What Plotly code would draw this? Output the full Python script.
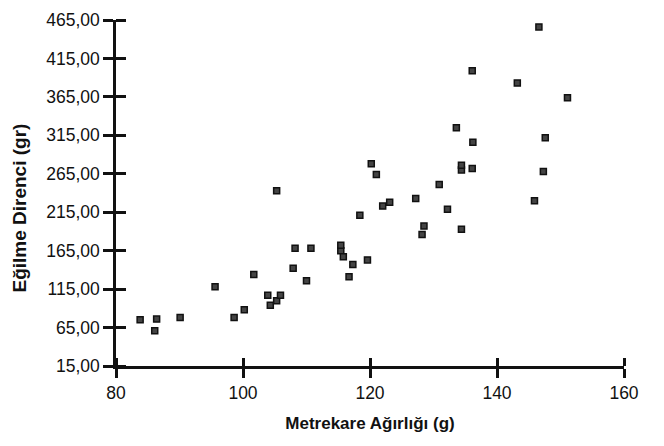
import plotly.graph_objects as go

# Data
metrekare_agirligi = [83.8, 86.4, 86.1, 90.1, 95.6, 98.6, 100.2, 101.7, 103.9, 104.3,
                      105.3, 105.9, 105.3, 107.9, 108.2, 110.0, 110.7, 115.4, 115.4, 115.8,
                      116.7, 117.3, 118.4, 119.6, 120.2, 121.0, 122.0, 123.1, 127.2, 128.2,
                      128.5, 130.9, 132.2, 133.6, 134.4, 134.4, 134.4, 136.1, 136.2, 136.1,
                      143.2, 145.9, 146.6, 147.3, 147.6, 151.1]
egilme_direnci = [75, 76, 61, 78, 118, 78, 88, 134, 107, 94,
                  100, 107, 243, 142, 168, 126, 168, 165, 172, 157,
                  131, 147, 211, 153, 278, 264, 223, 228, 233, 186,
                  197, 251, 219, 325, 270, 276, 193, 272, 306, 399,
                  383, 230, 456, 268, 312, 364]

x_ticks = [80, 100, 120, 140, 160]
y_ticks = [15, 65, 115, 165, 215, 265, 315, 365, 415, 465]
y_tick_labels = ["15,00", "65,00", "115,00", "165,00", "215,00", "265,00",
                 "315,00", "365,00", "415,00", "465,00"]
x_title = "Metrekare Ağırlığı (g)"
y_title = "Eğilme Direnci (gr)"

font_family = "Liberation Sans, Arial, sans-serif"

fig = go.Figure()
fig.add_trace(go.Scatter(
    x=metrekare_agirligi, y=egilme_direnci, mode="markers",
    marker=dict(symbol="square", size=6, color="#444",
                line=dict(width=1.5, color="#111")),
    showlegend=False,
))

common_axis = dict(showgrid=False, zeroline=False, showline=True, linecolor="#111",
                   linewidth=2.5, tickcolor="#111", tickwidth=2.5)

fig.update_layout(
    width=664, height=446,
    margin=dict(l=116, r=40, t=10, b=80),
    paper_bgcolor="white", plot_bgcolor="rgba(0,0,0,0)",
    font=dict(family=font_family, color="#111"),
    xaxis=dict(range=[80, 160], tickvals=x_ticks, ticktext=[str(v) for v in x_ticks],
               ticks="outside", ticklen=9, tickfont=dict(size=17.5),
               minor=dict(tickvals=x_ticks, ticks="inside", ticklen=8,
                          tickwidth=2.5, tickcolor="#111", showgrid=False),
               title=dict(text="<b>" + x_title + "</b>", font=dict(size=17), standoff=16),
               **common_axis),
    yaxis=dict(range=[15, 465], tickvals=y_ticks, ticktext=y_tick_labels,
               ticks="outside", ticklen=10, tickfont=dict(size=17.5),
               minor=dict(tickvals=y_ticks, ticks="inside", ticklen=10,
                          tickwidth=2.5, tickcolor="#111", showgrid=False),
               **common_axis),
    annotations=[dict(text="<b>" + y_title + "</b>", textangle=-90,
                      xref="paper", yref="paper", x=-0.189, y=0.458,
                      xanchor="center", yanchor="middle", showarrow=False,
                      font=dict(size=19, color="#111"))],
)

fig.write_html("out.html")
